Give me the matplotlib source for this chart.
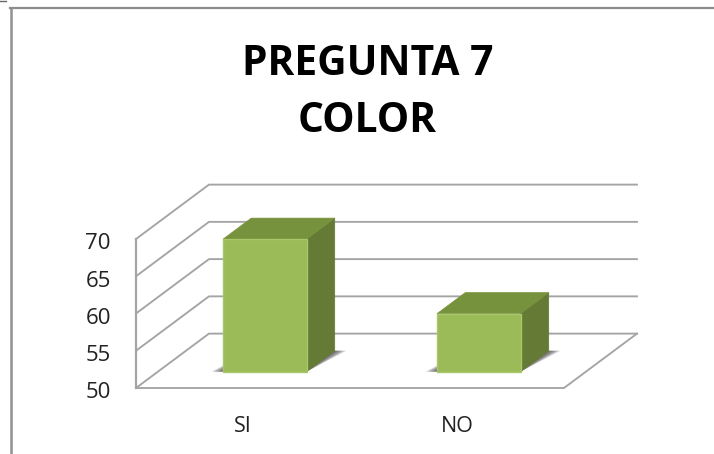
import numpy as np
import matplotlib.pyplot as plt
from matplotlib.patches import Polygon
from matplotlib.transforms import ScaledTranslation

plt.rcParams['font.family'] = ['Open Sans', 'DejaVu Sans']

categories = ['SI', 'NO']
values = [67.8, 57.8]
y_ticks = [50, 55, 60, 65, 70]

W, H = 714, 454

# depth of the 3d box, in data units
depth_x = 0.341
depth_y = 7.3
bar_width = 0.39
bar_front = 0.3
bar_back = 0.685

GRID = '#a4a4a4'
FACE = '#9bbb59'
TOP = '#76923c'
SIDE = '#647a35'


def proj(x, y, d):
    return x + d*depth_x, y + d*depth_y


fig = plt.figure(figsize=(W/100, H/100), dpi=100, facecolor='white')

# axes box runs from the front wall to the back right corner
left, right, top, bottom = 136, 637, 184, 388
ax = fig.add_axes([left/W, 1 - bottom/H, (right-left)/W, (bottom-top)/H])
ax.set_xlim(0.5, 0.5 + (right-left)/214)
ax.set_ylim(50, 50 + (bottom-top)/7.45)
ax.patch.set_visible(False)
for s in ax.spines.values():
    s.set_visible(False)

# walls and floor
for v in y_ticks:
    xs, ys = zip(proj(0.5, v, 0), proj(0.5, v, 1), proj(2.5, v, 1))
    ax.plot(xs, ys, color=GRID, lw=1.35, clip_on=False, zorder=1)
xs, ys = zip(proj(0.5, 50, 0), proj(2.5, 50, 0), proj(2.5, 50, 1))
ax.plot(xs, ys, color=GRID, lw=1.35, clip_on=False, zorder=1)
ax.plot([0.5, 0.5], [50, 70], color=GRID, lw=1.6, clip_on=False, zorder=1)

for i, v in enumerate(values):
    x0 = i + 1 - bar_width/2
    x1 = i + 1 + bar_width/2

    # soft shadow on the floor, built up from a few transparent layers
    for k in np.linspace(1, 0.2, 7):
        pad = 0.055*k
        ax.add_patch(Polygon([proj(x0-pad, 50, bar_front), proj(x1, 50, bar_front),
                              proj(x1+pad, 50, bar_back), proj(x1, 50, bar_back),
                              proj(x0, 50, bar_back)],
                             fc='#444444', ec='none', alpha=0.17, zorder=2))

    front = [proj(x0, 50, bar_front), proj(x1, 50, bar_front),
             proj(x1, v, bar_front), proj(x0, v, bar_front)]
    side = [proj(x1, 50, bar_front), proj(x1, 50, bar_back),
            proj(x1, v, bar_back), proj(x1, v, bar_front)]
    lid = [proj(x0, v, bar_front), proj(x1, v, bar_front),
           proj(x1, v, bar_back), proj(x0, v, bar_back)]
    ax.add_patch(Polygon(side, fc=SIDE, ec=SIDE, lw=0.5, zorder=3))
    ax.add_patch(Polygon(lid, fc=TOP, ec=TOP, lw=0.5, joinstyle='round', zorder=3))
    ax.add_patch(Polygon(front, fc=FACE, ec='#a9c76a', lw=1, zorder=4))

ax.set_xticks([1, 2], categories)
ax.set_yticks(y_ticks)
ax.tick_params(axis='x', length=0, pad=20, labelsize=15.5, colors='#222222')
ax.tick_params(axis='y', length=0, pad=18, labelsize=16, colors='#222222')

# y labels sit a little under their gridlines
nudge = ScaledTranslation(0, -2.5/100, fig.dpi_scale_trans)
for lab in ax.get_yticklabels():
    lab.set_transform(lab.get_transform() + nudge)

fig.text(367.5/W, 1 - 75/H, 'PREGUNTA 7', ha='center', va='baseline', fontsize=29.3, fontweight='bold', color='black')
fig.text(367.5/W, 1 - 132/H, 'COLOR', ha='center', va='baseline', fontsize=29.3, fontweight='bold', color='black')

# chart frame
fig.add_artist(plt.Line2D([10.5/W, 10.5/W], [0, 1 - 8/H], color='#969696', lw=1.9))
fig.add_artist(plt.Line2D([10/W, 1], [1 - 8/H, 1 - 8/H], color='#8c8c8c', lw=1.6))
fig.add_artist(plt.Line2D([0, 6/W], [1 - 0.5/H, 1 - 0.5/H], color='#666666', lw=1))

fig.savefig('out.png', dpi=100)
